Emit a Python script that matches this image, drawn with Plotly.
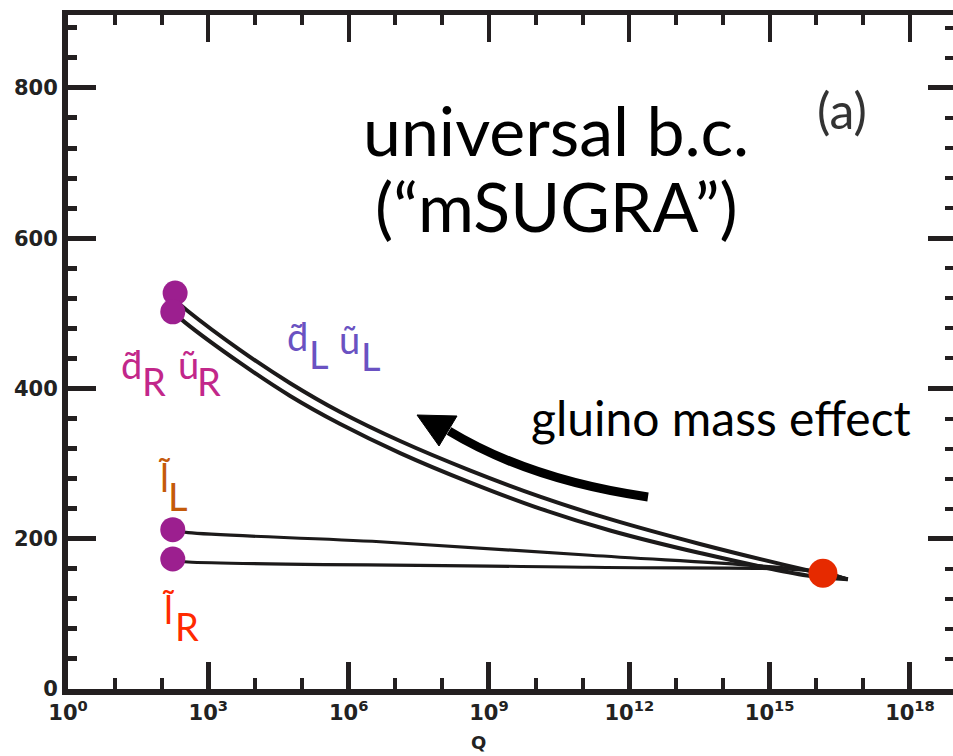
import plotly.graph_objects as go

# ---------------- data ----------------
# log10(Q / GeV) and mass (GeV) along each running curve
sq_L_logq = [2.30, 2.54, 3.68, 4.75, 5.81, 7.10, 8.59, 10.09, 11.59, 13.51, 15.80, 16.67]
sq_L_mass = [517, 504, 451, 407, 369, 330, 291, 256, 226, 193, 158, 146]
sq_R_logq = [2.28, 2.50, 3.68, 4.75, 5.81, 7.10, 8.59, 10.09, 11.59, 13.51, 15.80, 16.67]
sq_R_mass = [500, 488, 434, 390, 353, 314, 275, 240, 211, 181, 151, 146]
sl_L_logq = [2.28, 2.57, 6.67, 11.16, 16.08, 16.67]
sl_L_mass = [211, 208, 196, 178, 156, 146]
sl_R_logq = [2.28, 2.57, 11.16, 16.08, 16.67]
sl_R_mass = [171, 169, 162, 156, 146]

# low-scale masses (purple dots) and the GUT-scale boundary value (red dot)
low_logq = [2.29, 2.24, 2.24, 2.24]
low_mass = [527, 502, 212, 173]
gut_logq = [16.14]
gut_mass = [154]

# axes
x_tick_exp = [0, 3, 6, 9, 12, 15, 18]
x_minor_exp = list(range(0, 19))
y_range = [0, 897]
x_range = [0, 18.92]

# ---------------- figure ----------------
W, H = 953, 756
L, R, T, B = 68, 0, 15, 67
PW, PH = W - L - R, H - T - B
AX = "#231f20"


def px(X):
    return (X - L) / PW


def py(Y):
    return (H - B - Y) / PH


def Q(vals):
    return [10 ** v for v in vals]


fig = go.Figure()
for lq, m, w in [(sq_L_logq, sq_L_mass, 4), (sq_R_logq, sq_R_mass, 4),
                 (sl_L_logq, sl_L_mass, 3.2), (sl_R_logq, sl_R_mass, 3.2)]:
    fig.add_trace(go.Scatter(x=Q(lq), y=m, mode="lines",
                             line=dict(color="#1c1a1a", width=w, shape="spline", smoothing=1.0),
                             showlegend=False, hoverinfo="skip"))

fig.add_trace(go.Scatter(x=Q(low_logq), y=low_mass, mode="markers",
                         marker=dict(size=25, color="#9c1f8f"),
                         showlegend=False))
fig.add_trace(go.Scatter(x=Q(gut_logq), y=gut_mass, mode="markers",
                         marker=dict(size=29, color="#e62a00"),
                         xaxis="x2", yaxis="y2", showlegend=False))

tickfont = dict(family="DejaVu Sans", size=21, color="#222222", weight="bold")

fig.update_layout(
    width=W, height=H,
    margin=dict(l=L, r=R, t=T, b=B),
    paper_bgcolor="white", plot_bgcolor="white",
    showlegend=False,
    xaxis=dict(type="log", range=x_range, showline=True, linewidth=6, linecolor=AX,
               ticks="inside", tickvals=Q(x_tick_exp),
               ticktext=[f"10<sup>{e}</sup>" for e in x_tick_exp],
               ticklen=27, tickwidth=5, tickcolor=AX,
               minor=dict(ticks="inside", tickvals=Q(x_minor_exp), ticklen=11, tickwidth=4, tickcolor=AX),
               showgrid=False, zeroline=False, tickfont=tickfont),
    xaxis2=dict(type="log", range=x_range, overlaying="x", side="top", anchor="y",
                showline=True, linewidth=5, linecolor=AX,
                ticks="inside", tickvals=Q(x_tick_exp), ticklen=27, tickwidth=4, tickcolor=AX,
                minor=dict(ticks="inside", tickvals=Q(x_minor_exp), ticklen=10, tickwidth=4, tickcolor=AX),
                showticklabels=False, showgrid=False, zeroline=False),
    yaxis=dict(range=y_range, showline=True, linewidth=6, linecolor=AX,
               ticks="inside", tick0=0, dtick=200, ticklen=28, tickwidth=5, tickcolor=AX,
               minor=dict(ticks="inside", dtick=40, ticklen=9, tickwidth=5, tickcolor=AX),
               showgrid=False, zeroline=False, tickfont=tickfont),
    yaxis2=dict(range=y_range, overlaying="y", side="right", anchor="x",
                showline=False, ticks="inside", tick0=0, dtick=200, ticklen=25, tickwidth=5, tickcolor=AX,
                minor=dict(ticks="inside", dtick=40, ticklen=8, tickwidth=4, tickcolor=AX),
                showticklabels=False, showgrid=False, zeroline=False),
)

FONT = "Lato"


def ann(text, X, base, size, color, family=FONT, weight="normal"):
    fig.add_annotation(text=text, x=px(X), y=py(base + 0.213 * size + 1),
                       xref="paper", yref="paper", xanchor="center", yanchor="bottom",
                       showarrow=False,
                       font=dict(family=family, size=size, color=color, weight=weight))


# axis title (placed as in the reference, left of the centre)
ann("Q", 478, 750, 18, "#222222", family="DejaVu Sans", weight="bold")

# big text
ann("universal b.c.", 556, 157, 68, "#000000")
ann("(\u201cmSUGRA\u201d)", 556, 233, 68, "#000000")
ann("(a)", 842, 130, 50, "#333333")
ann("gluino mass effect", 721, 437, 48, "#000000")

# particle labels
MAG = "#c2278a"
BLU = "#6a52c2"
ORA = "#c45a0a"
RED = "#ff2a00"
S = 38
ann("d\u0303", 131, 380, S, MAG)
ann("R", 154, 397, S, MAG)
ann("u\u0303", 188, 380, S, MAG)
ann("R", 209, 397, S, MAG)

ann("d\u0303", 297, 352, S, BLU)
ann("L", 319, 370, S, BLU)
ann("u\u0303", 349, 355, S, BLU)
ann("L", 371, 372, S, BLU)

ann("l\u0303", 164, 493, S, ORA)
ann("L", 178, 512, S, ORA)
ann("l\u0303", 168, 625, S, RED)
ann("R", 187, 642, S, RED)

# curved arrow
fig.add_shape(type="path", xref="paper", yref="paper",
              path=f"M {px(648)},{py(497)} Q {px(530)},{py(480)} {px(449)},{py(431)}",
              line=dict(color="black", width=9))
fig.add_shape(type="path", xref="paper", yref="paper",
              path=f"M {px(417)},{py(415)} L {px(457)},{py(416)} L {px(439)},{py(446)} Z",
              line=dict(color="black", width=1), fillcolor="black")

fig.write_html("out.html")
